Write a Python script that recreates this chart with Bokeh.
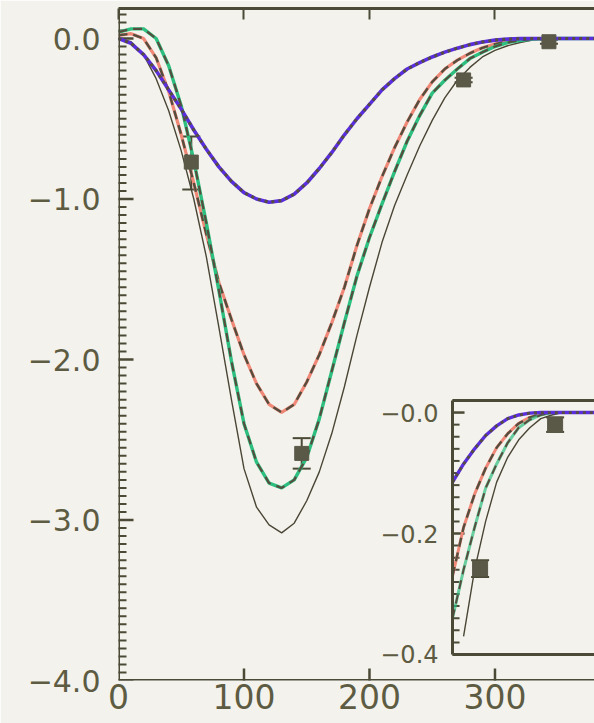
import numpy as np
from bokeh.plotting import figure
from bokeh.models import (Range1d, LinearAxis, FixedTicker,
                          ColumnDataSource, Whisker, TeeHead)
from bokeh.embed import file_html
from bokeh.resources import INLINE

# ---------------- data ----------------
x_model = list(range(0, 390, 10))  # 0 .. 380

blue = [0.0, -0.03, -0.10, -0.20, -0.32, -0.44, -0.57, -0.69, -0.80, -0.89,
        -0.96, -1.00, -1.02, -1.01, -0.97, -0.90, -0.81, -0.71, -0.60, -0.50,
        -0.41, -0.32, -0.25, -0.19, -0.15, -0.115, -0.085, -0.06, -0.038, -0.022,
        -0.01, -0.004, -0.001, 0.0, 0.0, 0.0, 0.0, 0.0, 0.0]

red = [0.02, 0.03, 0.0, -0.12, -0.33, -0.60, -0.90, -1.22, -1.52, -1.75,
       -1.97, -2.15, -2.28, -2.33, -2.28, -2.14, -1.97, -1.77, -1.55, -1.29,
       -1.06, -0.86, -0.68, -0.52, -0.38, -0.27, -0.19, -0.135, -0.092, -0.058,
       -0.035, -0.018, -0.008, -0.003, 0.0, 0.0, 0.0, 0.0, 0.0]

green = [0.04, 0.06, 0.06, 0.0, -0.17, -0.42, -0.76, -1.15, -1.57, -2.01,
         -2.40, -2.64, -2.77, -2.80, -2.75, -2.61, -2.37, -2.07, -1.77, -1.48,
         -1.24, -1.03, -0.83, -0.64, -0.48, -0.34, -0.26, -0.19, -0.125, -0.085,
         -0.05, -0.025, -0.012, -0.004, 0.0, 0.0, 0.0, 0.0, 0.0]

black = [0.0, -0.02, -0.10, -0.25, -0.45, -0.70, -1.00, -1.36, -1.80, -2.25,
         -2.68, -2.92, -3.03, -3.08, -3.02, -2.88, -2.70, -2.46, -2.17, -1.85,
         -1.55, -1.27, -1.04, -0.85, -0.67, -0.51, -0.37, -0.26, -0.18, -0.115,
         -0.074, -0.045, -0.025, -0.01, -0.004, 0.0, 0.0, 0.0, 0.0]

obs_x = [58, 146, 275, 343]
obs_y = [-0.77, -2.585, -0.258, -0.02]
obs_lo = [-0.94, -2.68, -0.272, -0.032]
obs_hi = [-0.61, -2.49, -0.244, -0.008]

main_y_ticks = [0, -1, -2, -3, -4]
main_y_labels = ["0.0", "\u22121.0", "\u22122.0", "\u22123.0", "\u22124.0"]
main_y_minor_step = 0.05
main_x_ticks = [0, 100, 200, 300]
main_x_labels = ["0", "100", "200", "300"]
inset_y_ticks = [0.0, -0.2, -0.4]
inset_y_labels = ["\u22120.0", "\u22120.2", "\u22120.4"]
inset_y_minor_step = 0.02
inset_x_min, inset_y_min, inset_y_max = 250, -0.4, 0.02
main_y_min, main_y_max = -4.0, 0.187

# ---------------- style ----------------
BG = "#f3f2ec"
AX = "#4b4a36"
TXT = "#5d5b42"
FONT = "DejaVu Sans"
C_BLUE = "#5a2ee0"
C_RED = "#f08878"
C_GREEN = "#2dbf7f"
C_BLACK = "#4a4636"
C_DASH = "#554d3e"

p = figure(width=594, height=723, x_range=Range1d(0, 379.3),
           y_range=Range1d(main_y_min, main_y_max),
           output_backend="svg", toolbar_location=None,
           x_axis_location=None, y_axis_location=None,
           min_border_left=118, min_border_right=0, min_border_top=8, min_border_bottom=43,
           background_fill_color=BG, border_fill_color=BG, outline_line_color=None)
p.grid.visible = False


def line_axis(ticks, tick_in=0, **extra):
    """Axis that draws its line (and optional inward ticks), labels blanked."""
    ax = LinearAxis(ticker=FixedTicker(ticks=ticks),
                    major_label_overrides={float(t): "" for t in ticks}, **extra)
    ax.axis_line_color = AX
    ax.axis_line_width = 3
    ax.major_tick_line_color = AX
    ax.major_tick_line_width = 2
    ax.minor_tick_line_color = None
    ax.major_tick_in = tick_in
    ax.major_tick_out = 0
    ax.minor_tick_in = 0
    ax.minor_tick_out = 0
    ax.major_label_text_font_size = "1px"
    ax.major_label_standoff = 0
    return ax


def label_axis(ticks, labels, size, standoff, **extra):
    """Axis that only draws tick labels."""
    ax = LinearAxis(ticker=FixedTicker(ticks=ticks),
                    major_label_overrides={float(t): l for t, l in zip(ticks, labels)}, **extra)
    ax.axis_line_color = None
    ax.major_tick_line_color = None
    ax.minor_tick_line_color = None
    ax.major_tick_in = 0
    ax.major_tick_out = 0
    ax.minor_tick_in = 0
    ax.minor_tick_out = 0
    ax.major_label_text_color = TXT
    ax.major_label_text_font = FONT
    ax.major_label_text_font_size = size
    ax.major_label_standoff = standoff
    return ax


# main axis lines
p.add_layout(line_axis([], fixed_location=0), "left")
p.add_layout(line_axis([], fixed_location=main_y_min), "below")
p.add_layout(line_axis(main_x_ticks, tick_in=11), "above")
# main labels
p.add_layout(label_axis(main_y_ticks, main_y_labels, "30px", 18), "left")
p.add_layout(label_axis(main_x_ticks, main_x_labels, "33px", 3), "below")

# inward tick marks: dash markers centred on the axis; the frame clips the outer half
y_minor = [round(v, 3) for v in np.arange(main_y_min, main_y_max, main_y_minor_step)
           if abs(v - round(v)) > 1e-6]
p.scatter(x=[0] * len(main_y_ticks), y=main_y_ticks, marker="dash", size=30,
          line_color=AX, line_width=2.5)
p.scatter(x=[0] * len(y_minor), y=y_minor, marker="dash", size=16,
          line_color=AX, line_width=2)
xt = [t for t in main_x_ticks if t > 0]
p.scatter(x=xt, y=[main_y_min] * len(xt), marker="dash", size=24, angle=np.pi / 2,
          line_color=AX, line_width=2.5)

# main curves
p.line(x_model, black, line_color=C_BLACK, line_width=1.4)
p.line(x_model, red, line_color=C_RED, line_width=3.2)
p.line(x_model, red, line_color=C_DASH, line_width=2.4, line_dash="9 6")
p.line(x_model, green, line_color=C_GREEN, line_width=3.4)
p.line(x_model, green, line_color=C_DASH, line_width=2.2, line_dash="9 6")
p.line(x_model, blue, line_color=C_BLUE, line_width=3.6)
p.line(x_model, blue, line_color=C_DASH, line_width=3.0, line_dash="3 4")

obs = ColumnDataSource(dict(x=obs_x, y=obs_y, lo=obs_lo, hi=obs_hi))
p.add_layout(Whisker(source=obs, base="x", upper="hi", lower="lo", dimension="height",
                     line_color=AX, line_width=2,
                     upper_head=TeeHead(size=18, line_color=AX, line_width=2),
                     lower_head=TeeHead(size=18, line_color=AX, line_width=2)))
p.scatter("x", "y", source=obs, marker="square", size=14, fill_color="#5a5948",
          line_color="#5a5948")

# ---------------- inset (own ranges) ----------------
p.extra_x_ranges = {"ix": Range1d(-52.8, 378.7)}
p.extra_y_ranges = {"iy": Range1d(-0.443, 0.668)}
kw = dict(x_range_name="ix", y_range_name="iy")

p.add_layout(line_axis([], fixed_location=inset_x_min,
                       bounds=(inset_y_min, inset_y_max), **kw), "left")
p.add_layout(label_axis(inset_y_ticks, inset_y_labels, "24px", 14,
                        fixed_location=inset_x_min, bounds=(inset_y_min, inset_y_max), **kw),
             "left")
p.add_layout(line_axis([], fixed_location=inset_y_min, bounds=(inset_x_min, 600), **kw), "below")
p.add_layout(line_axis([], fixed_location=inset_y_max, bounds=(inset_x_min, 600), **kw), "above")

# inset ticks: inward rays from the inset's left edge
iy_minor = [round(v, 3) for v in np.arange(inset_y_min, inset_y_max + 1e-9, inset_y_minor_step)
            if min(abs(v - t) for t in inset_y_ticks) > 1e-6]
p.ray(x=[inset_x_min] * len(inset_y_ticks), y=inset_y_ticks, length=12, length_units="screen",
      angle=0, line_color=AX, line_width=2.5, **kw)
p.ray(x=[inset_x_min] * len(iy_minor), y=iy_minor, length=7, length_units="screen",
      angle=0, line_color=AX, line_width=2, **kw)


def inset_part(xs, ys):
    xs = np.asarray(xs, float)
    ys = np.asarray(ys, float)
    m = (xs >= inset_x_min) & (ys >= inset_y_min)
    return xs[m], ys[m]


xi, yi = inset_part(x_model, black)
p.line(xi, yi, line_color=C_BLACK, line_width=1.4, **kw)
xi, yi = inset_part(x_model, red)
p.line(xi, yi, line_color=C_RED, line_width=3.0, **kw)
p.line(xi, yi, line_color=C_DASH, line_width=2.4, line_dash="9 6", **kw)
xi, yi = inset_part(x_model, green)
p.line(xi, yi, line_color=C_GREEN, line_width=3.0, line_alpha=0.7, **kw)
p.line(xi, yi, line_color=C_DASH, line_width=2.0, line_dash="9 6", **kw)
xi, yi = inset_part(x_model, blue)
p.line(xi, yi, line_color=C_BLUE, line_width=3.4, **kw)
p.line(xi, yi, line_color=C_DASH, line_width=2.8, line_dash="3 4", **kw)

ox = np.asarray(obs_x, float)
mi = ox >= inset_x_min
iobs = ColumnDataSource(dict(x=ox[mi], y=np.asarray(obs_y)[mi],
                             lo=np.asarray(obs_lo)[mi], hi=np.asarray(obs_hi)[mi]))
p.add_layout(Whisker(source=iobs, base="x", upper="hi", lower="lo", dimension="height",
                     line_color=AX, line_width=2, **kw,
                     upper_head=TeeHead(size=18, line_color=AX, line_width=2),
                     lower_head=TeeHead(size=18, line_color=AX, line_width=2)))
p.scatter("x", "y", source=iobs, marker="square", size=15, fill_color="#5a5948",
          line_color="#5a5948", **kw)

open("out.html", "w").write(file_html(p, INLINE))
